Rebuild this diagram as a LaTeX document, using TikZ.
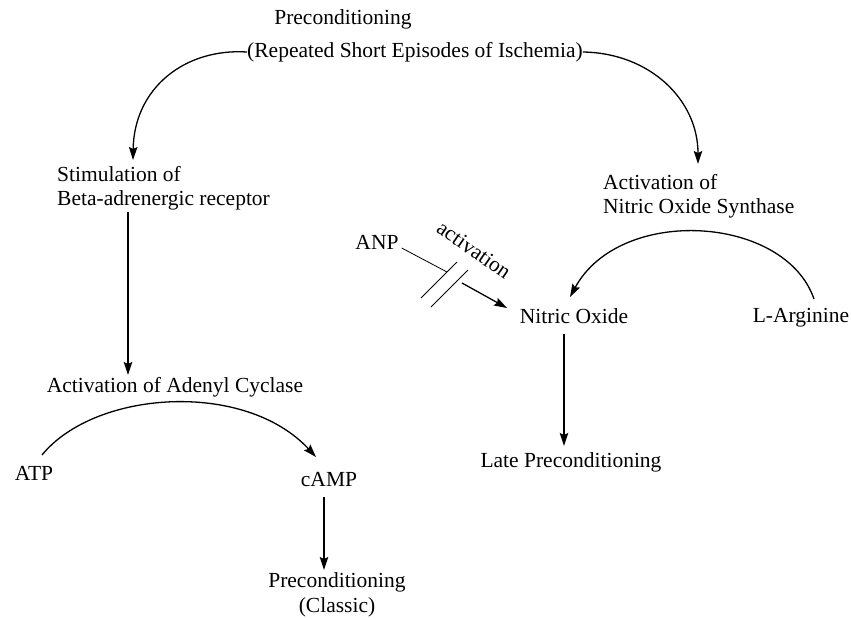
\documentclass[tikz,border=0pt]{standalone}
\usepackage{fontspec}
\setmainfont{Liberation Serif}
\usetikzlibrary{arrows.meta}
\begin{document}
\begin{tikzpicture}[x=1pt,y=-1pt,
  lbl/.style={inner sep=0pt,font=\fontsize{21.5}{24.5}\selectfont},
  conn/.style={line width=1.3pt,-{Stealth[length=13pt,width=8.5pt,inset=2pt]}},
  thin/.style={line width=0.8pt}]
\useasboundingbox (0,0) rectangle (851,619);
% nodes
\node[lbl] (pre) at (343,19) {Preconditioning};
\node[lbl] (rep) at (415,52) {(Repeated Short Episodes of Ischemia)};
\node[lbl,align=left,anchor=west] (stim) at (57,188) {Stimulation of\\Beta-adrenergic receptor};
\node[lbl] (aden) at (175,387) {Activation of Adenyl Cyclase};
\node[lbl] (atp) at (34,473) {ATP};
\node[lbl] (camp) at (329,479) {cAMP};
\node[lbl,align=center] (classic) at (337,595) {Preconditioning\\(Classic)};
\node[lbl,align=left,anchor=west] (nos) at (603,196) {Activation of\\Nitric Oxide Synthase};
\node[lbl] (anp) at (377,242) {ANP};
\node[lbl] (no) at (574,316) {Nitric Oxide};
\node[lbl] (larg) at (801,318) {L-Arginine};
\node[lbl] (late) at (571,462) {Late Preconditioning};
\node[lbl,rotate=-35] (act) at (474,250) {activation};
% coordinates
\coordinate (s1) at (133,160);
\coordinate (n1) at (698,164);
\coordinate (a1) at (42,455);
\coordinate (c1) at (316,457);
\coordinate (l1) at (814,299);
\coordinate (o1) at (570,297);
\coordinate (p1a) at (421,298);
\coordinate (p1b) at (457,262);
\coordinate (p2a) at (431,307);
\coordinate (p2b) at (468,270);
\coordinate (j1) at (447,272);
\coordinate (k1) at (462,283);
\coordinate (k2) at (507,308);
\coordinate (v1) at (128,212);
\coordinate (v2) at (128,375);
\coordinate (ca1) at (324,497);
\coordinate (ca2) at (324,570);
\coordinate (no1) at (564,334);
\coordinate (no2) at (564,446);
% connectors
\draw[conn] (rep.west) .. controls (185,48) and (134,88) .. (s1);
\draw[conn] (rep.east) .. controls (650,53) and (698,100) .. (n1);
\draw[conn] (v1) -- (v2);
\draw[conn] (a1) .. controls (95,390) and (245,380) .. (c1);
\draw[conn] (ca1) -- (ca2);
\draw[conn] (l1) .. controls (785,215) and (620,205) .. (o1);
\draw[conn] (no1) -- (no2);
\draw[thin] (anp.east) ++(3,6) -- (j1);
\draw[thin] (p1a) -- (p1b);
\draw[thin] (p2a) -- (p2b);
\draw[conn] (k1) -- (k2);
\end{tikzpicture}
\end{document}
